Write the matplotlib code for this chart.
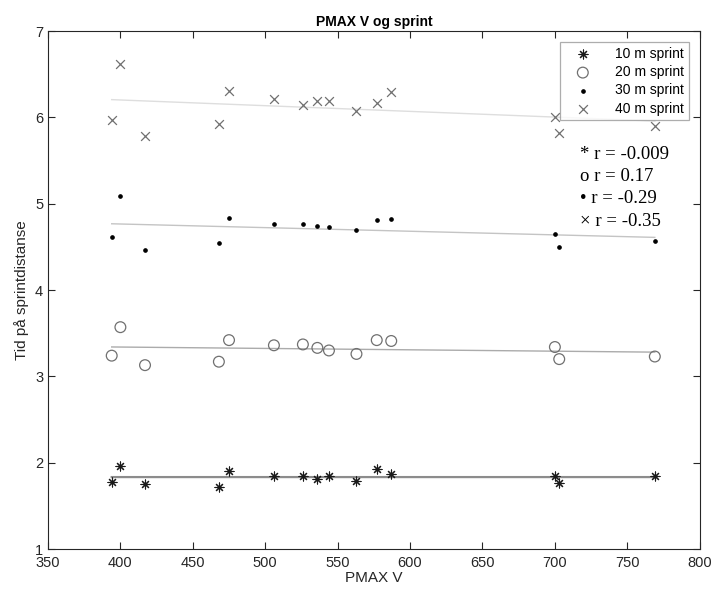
import numpy as np
import matplotlib
matplotlib.use("Agg")
import matplotlib.pyplot as plt

# PMAX V per person (same x for all four sprint distances)
pmax = [394, 400, 417, 468, 475, 506, 526, 536, 544, 563, 577, 587, 700, 703, 769]

# sprint times (s)
t10 = [1.78, 1.96, 1.75, 1.72, 1.90, 1.85, 1.85, 1.81, 1.84, 1.79, 1.93, 1.87, 1.84, 1.77, 1.84]
t20 = [3.24, 3.57, 3.13, 3.17, 3.42, 3.36, 3.37, 3.33, 3.30, 3.26, 3.42, 3.41, 3.34, 3.20, 3.23]
t30 = [4.61, 5.09, 4.46, 4.54, 4.84, 4.76, 4.76, 4.74, 4.73, 4.69, 4.81, 4.82, 4.65, 4.50, 4.57]
t40 = [5.97, 6.62, 5.78, 5.92, 6.31, 6.21, 6.14, 6.19, 6.19, 6.08, 6.17, 6.30, 6.00, 5.82, 5.90]

labels = ["10 m sprint", "20 m sprint", "30 m sprint", "40 m sprint"]
r_text = ["* r = -0.009", "o r = 0.17", "\u2022 r = -0.29", "\u00d7 r = -0.35"]

plt.rcParams['font.family'] = ['Liberation Sans', 'DejaVu Sans']

fig = plt.figure(figsize=(7.14, 5.89), dpi=100)
ax = fig.add_axes([0.0672, 0.0679, 0.9128, 0.8793])

x = np.array(pmax)
# regression lines (lsline style)
line_cols = ["#8c8c8c", "#ababab", "#c4c4c4", "#dedede"]
line_w = [1.6, 1.0, 1.0, 1.0]
for ys, c, lw in zip([t10, t20, t30, t40], line_cols, line_w):
    k, m = np.polyfit(x, ys, 1)
    xs = np.array([x.min(), x.max()])
    ax.plot(xs, k * xs + m, color=c, linewidth=lw, zorder=1)

ax.scatter(x, t10, marker=(8, 2, 0), s=42, color="#1a1a1a", linewidths=0.8, label=labels[0], zorder=3)
ax.scatter(x, t20, marker="o", s=60, facecolors="none", edgecolors="#707070", linewidths=0.9, label=labels[1], zorder=3)
ax.scatter(x, t30, marker=".", s=22, color="black", label=labels[2], zorder=3)
ax.scatter(x, t40, marker="x", s=40, color="#707070", linewidths=0.9, label=labels[3], zorder=3)

ax.set_xlim(350, 800)
ax.set_ylim(1, 7)
ax.set_xticks(np.arange(350, 801, 50))
ax.set_yticks(np.arange(1, 8, 1))
ax.tick_params(direction="in", top=True, right=True, length=5, labelsize=10.5,
               colors="#262626", width=0.8)
ax.tick_params(axis="x", pad=5)
for s in ax.spines.values():
    s.set_color("#262626")
    s.set_linewidth(0.8)

ax.set_title("PMAX V og sprint", fontsize=10, fontweight="bold", pad=4)
ax.set_xlabel("PMAX V", fontsize=11, color="#262626", labelpad=1)
ax.set_ylabel("Tid på sprintdistanse", fontsize=11, color="#262626", labelpad=4)

leg = ax.legend(loc="upper right", fontsize=10, frameon=True, fancybox=False,
                edgecolor="#999999", borderaxespad=0.8, handletextpad=1.0,
                handlelength=2.6, labelspacing=0.3, borderpad=0.35,
                markerfirst=True)
leg.get_frame().set_linewidth(0.9)

ax.text(0.816, 0.779, "\n".join(r_text), transform=ax.transAxes, fontsize=13.5,
        family=["Liberation Serif", "DejaVu Serif"], va="top", ha="left",
        linespacing=1.42, zorder=4,
        bbox=dict(facecolor="white", edgecolor="none", pad=2))

fig.savefig("out.png", dpi=100)
